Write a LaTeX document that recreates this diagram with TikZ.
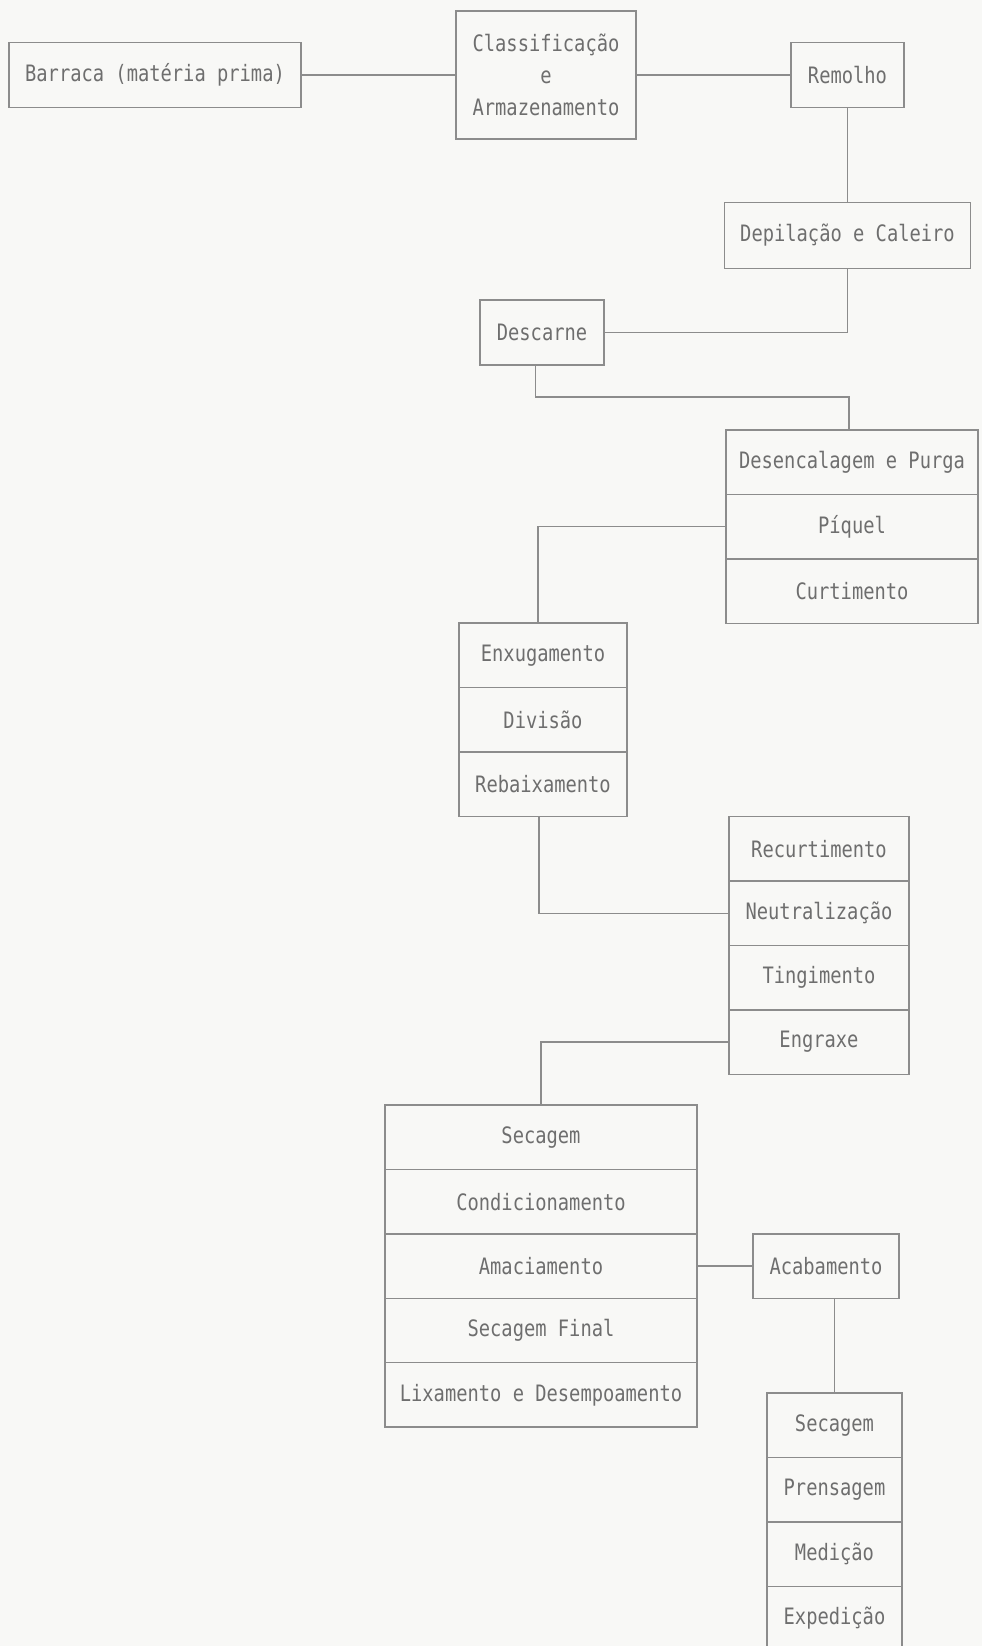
\documentclass[tikz,border=0pt]{standalone}
\usepackage{fontspec}
\usetikzlibrary{positioning}
\newfontfamily\dotmono[FakeStretch=0.83]{DejaVu Sans Mono}
\definecolor{paper}{HTML}{F8F8F6}
\definecolor{linegray}{HTML}{8C8C8C}
\definecolor{inkgray}{HTML}{6E6E6E}
\tikzset{
  stage/.style={
    rectangle, draw=linegray, line width=1.4pt,
    minimum width=#1, minimum height=64.4pt,
    inner sep=0pt, outer sep=0pt, align=center,
    text=inkgray, font=\dotmono\fontsize{22.6}{32}\selectfont,
  },
  stage/.default=120pt,
  link/.style={draw=linegray, line width=1.4pt},
}
\begin{document}
\begin{tikzpicture}[x=1pt, y=-1pt]

  \fill[paper] (0,0) rectangle (982,1646);
  \useasboundingbox (0,0) rectangle (982,1646);

  % ribeira
  \node[stage=292pt] (barraca) at (155,75) {Barraca (matéria prima)};
  \node[stage=180pt, minimum height=128pt, right=155pt of barraca] (classif) {Classificação\\e\\Armazenamento};
  \node[stage=113pt, right=155pt of classif] (remolho) {Remolho};
  \node[stage=246pt, minimum height=66pt, below=95pt of remolho] (depilacao) {Depilação e Caleiro};
  \node[stage=124pt, minimum height=65pt, anchor=north west] (descarne) at (480,300) {Descarne};

  % curtimento
  \node[stage=252pt, anchor=north west] (desencal) at (726,430) {Desencalagem e Purga};
  \node[stage=252pt, below=0pt of desencal] (piquel) {Píquel};
  \node[stage=252pt, below=0pt of piquel] (curtim) {Curtimento};

  \node[stage=168pt, anchor=north west] (enxug) at (459,623) {Enxugamento};
  \node[stage=168pt, below=0pt of enxug] (divisao) {Divisão};
  \node[stage=168pt, below=0pt of divisao] (rebaix) {Rebaixamento};

  % acabamento molhado
  \node[stage=180pt, anchor=north west] (recurt) at (729,816.7) {Recurtimento};
  \node[stage=180pt, below=0pt of recurt] (neutral) {Neutralização};
  \node[stage=180pt, below=0pt of neutral] (tingim) {Tingimento};
  \node[stage=180pt, below=0pt of tingim] (engraxe) {Engraxe};

  % pre-acabamento
  \node[stage=312pt, anchor=north west] (secagem) at (385,1105) {Secagem};
  \node[stage=312pt, below=0pt of secagem] (condic) {Condicionamento};
  \node[stage=312pt, below=0pt of condic] (amacia) {Amaciamento};
  \node[stage=312pt, below=0pt of amacia] (secfinal) {Secagem Final};
  \node[stage=312pt, below=0pt of secfinal] (lixam) {Lixamento e Desempoamento};

  \node[stage=146pt, right=56pt of amacia] (acabam) {Acabamento};

  \node[stage=135pt, anchor=north west] (secag2) at (767,1393) {Secagem};
  \node[stage=135pt, below=0pt of secag2] (prensag) {Prensagem};
  \node[stage=135pt, below=0pt of prensag] (medicao) {Medição};
  \node[stage=135pt, below=0pt of medicao] (expedic) {Expedição};

  \draw[link] (barraca) -- (classif);
  \draw[link] (classif) -- (remolho);
  \draw[link] (remolho) -- (depilacao);
  \draw[link] (depilacao.south) |- (descarne.east);
  \draw[link] ([xshift=-6.5pt]descarne.south) -- ++(0,32) -| ([xshift=-3pt]desencal.north);
  \draw[link] (piquel.west) -| ([xshift=-5pt]enxug.north);
  \draw[link] ([xshift=-4pt]rebaix.south) |- (neutral.west);
  \draw[link] (engraxe.west) -| (secagem.north);
  \draw[link] (amacia) -- (acabam);
  \draw[link] (secag2.north |- acabam.south) -- (secag2.north);

\end{tikzpicture}
\end{document}
